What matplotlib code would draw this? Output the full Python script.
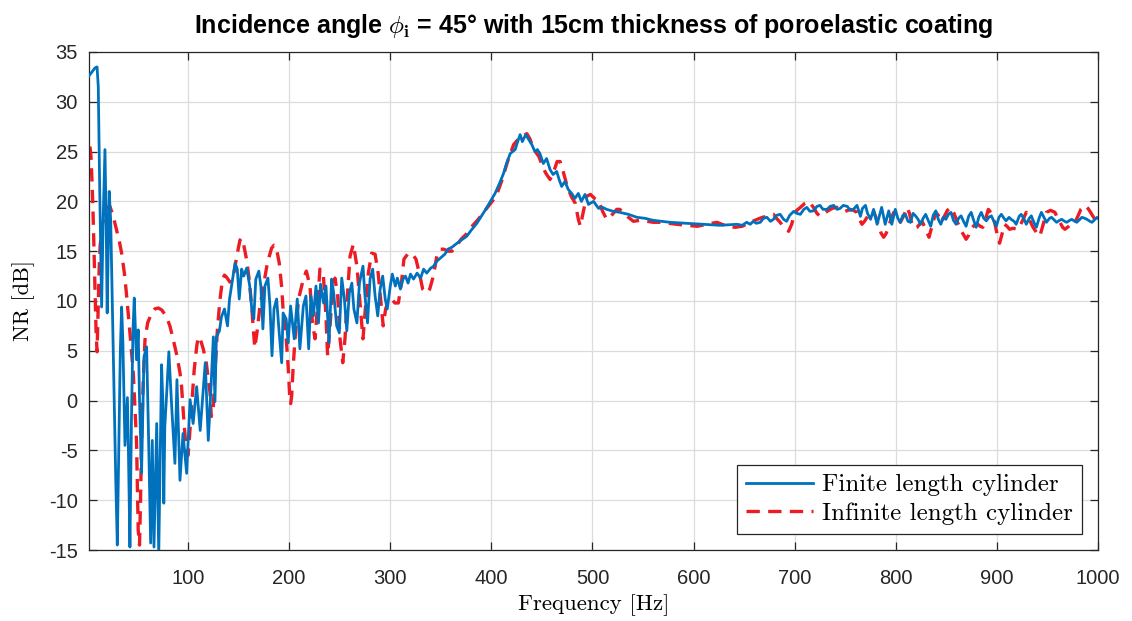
import matplotlib
matplotlib.use("Agg")
import matplotlib.pyplot as plt

plt.rcParams['mathtext.fontset'] = 'cm'
plt.rcParams['axes.unicode_minus'] = False

# --- Finite length cylinder ---
fin_freq = [2, 5, 8, 10, 11.2, 12.5, 14.5, 16, 17.8, 19, 20, 21, 22, 23.5, 26, 28.5, 30, 31.5, 33, 34.3,
            35.5, 37.6, 40, 41, 42.5, 44, 45.5, 46.8, 49, 50.7, 52, 54, 56.4, 59, 61, 63, 64.6, 66.3, 69, 71,
            73.8, 75, 76, 77, 79, 81, 83.8, 87, 89, 92, 95, 98.6, 102, 105, 108.5, 112, 117, 120, 122, 125,
            126.6, 128, 131, 133, 136, 139, 141, 144, 146.5, 148.7, 150.6, 153, 155, 158, 161, 163, 165, 167, 170, 172,
            174, 176, 179, 181, 183, 185, 187.6, 189.6, 192.6, 194, 197, 199, 201.4, 205, 208, 210.6, 214, 216.6, 219.3, 221.5,
            224, 226.5, 229, 231, 234, 236.4, 239.4, 242, 244, 247, 249.6, 252, 254.6, 257, 259.5, 262, 264, 267,
            269.5, 273, 275, 277.5, 280, 282.6, 285, 287.6, 290, 292.5, 295, 297, 300, 302, 305, 307, 310, 312.6,
            315, 317.6, 320, 323, 326.5, 330, 333, 336, 340, 343, 346, 349.5, 354, 357, 361, 366, 370, 375.6,
            380, 385.6, 390, 395, 399, 403.6, 408, 412, 415, 418.6, 421, 423.5, 426, 428.4, 430.6, 432, 434, 437,
            440, 443, 445.5, 448, 451.4, 454.6, 458, 461, 464.6, 467, 469.5, 472.8, 476, 479.4, 482.6, 486, 489, 492.6,
            496, 501, 506, 510, 514, 520.6, 527, 535.5, 544, 552, 560, 568, 576.6, 585, 593, 601, 609.6, 618,
            626, 634, 643, 648, 652.5, 656, 659, 662, 666, 669, 672.5, 676, 679, 682, 685.6, 689, 692, 695,
            699, 702, 705.6, 709, 712, 715, 718.5, 722, 725, 728, 732, 735, 738.6, 742, 745, 748, 752, 755,
            758, 761.6, 765, 767, 770, 772, 775, 778, 781.5, 786, 789.5, 793, 796, 799.5, 802, 804.5, 807, 809.5,
            812, 814.5, 817, 819.5, 822, 824.5, 827, 829.5, 832, 834.5, 837, 839.5, 842, 844.5, 847, 849.5, 852, 854.5,
            857, 859.6, 862, 864.5, 867, 869.5, 872, 874.5, 877, 879.5, 882, 884.5, 887, 889.5, 892, 894.5, 897, 899.4,
            902, 904.4, 907, 909, 912, 914, 917, 919, 922, 924, 927, 929, 932, 934, 937, 939, 942, 944,
            947, 949, 952, 954, 957, 959, 962, 964, 967, 969, 972, 974, 977, 979, 982, 984, 987, 989,
            992, 994, 997, 999, 1000]
fin_nr = [32.6, 33.0, 33.4, 33.5, 31.5, 22, 9.4, 18, 25.2, 18, 8.8, 15, 21, 18, 5, -8, -14.5, -5, 5, 9.4,
          6, -4.5, 0.3, -5, -14.7, -2, 7, 10.3, 4.1, 7.1, 0, -7.3, 4.4, 5.4, -4, -14.3, -4, -14.7, -2.3, -15.5,
          3.6, 0, -10.3, -2.6, 1, 4.9, -0.6, -6.3, 2.1, -8, -3.3, -7.3, 0.1, -2.3, 1.4, -3, 3.8, -4, -0.1, 6.4,
          -0.1, 6.4, 7, 8.4, 9.2, 7.5, 10.2, 12.2, 13.8, 13.2, 10.2, 13.2, 12.5, 13.3, 11.5, 9.2, 8.2, 12.2, 13, 11.5,
          7.2, 11.5, 12.3, 9.5, 4.5, 9.2, 10.2, 7.5, 3.8, 8.8, 8.2, 5.8, 9.5, 6.2, 10.2, 5.2, 9.5, 10.5, 5.2, 10.5,
          8.5, 11.5, 7.8, 11.7, 9.8, 11.5, 5.8, 12.2, 10.8, 7.5, 6.8, 12.3, 10.2, 7, 10.8, 11.8, 9.2, 7.8,
          11.8, 13.5, 10.5, 7.8, 12.2, 13.2, 10.5, 8.5, 11.2, 12.5, 10.2, 9.2, 11.5, 12.7, 11.5, 12.3, 11.2, 12.2,
          12.5, 11.8, 12.7, 12.2, 12.8, 12.3, 13.2, 12.8, 13.3, 13.5, 14, 14.3, 14.7, 15.2, 15.4, 15.8, 16.1, 16.5,
          17.1, 17.8, 18.5, 19.3, 20, 20.8, 21.8, 22.8, 23.8, 24.8, 25, 25.2, 26, 26.7, 26, 26.3, 26.7, 26.2,
          25.7, 25, 25.2, 24.8, 23.8, 24.3, 23.2, 22.7, 23, 22.2, 21.5, 22, 21.2, 20.8, 20.3, 20.8, 20, 20.7,
          19.7, 20, 19.3, 19.4, 19.2, 19, 18.9, 18.7, 18.4, 18.3, 18.1, 18, 17.9, 17.85, 17.8, 17.75, 17.7, 17.65,
          17.6, 17.65, 17.7, 17.6, 17.9, 17.7, 18, 17.8, 17.9, 18.3, 18.4, 18, 18.2, 18.6, 18.7, 18.2, 18, 18.6,
          19, 18.8, 18.7, 19.2, 19.4, 19, 19.05, 19.5, 19.6, 19.2, 19.2, 19.5, 19.6, 19.2, 19.3, 19.6, 19.5, 19.1,
          19.2, 19.6, 18.5, 19.3, 19.6, 18.8, 18.2, 19.2, 17.7, 19.4, 17.7, 19.05, 17.7, 19.2, 18.3, 17.9, 18.6, 18.7,
          18, 17.9, 18.8, 18.55, 18.2, 17.7, 18.3, 18.7, 18.1, 17.5, 18.6, 19.05, 18.2, 17.7, 18.4, 18.2, 18.7, 18.9,
          18.1, 17.7, 18.3, 18.55, 18, 17.5, 18.5, 18.9, 18.1, 17.4, 18.4, 18.9, 18.3, 18.05, 18.4, 18.55, 18, 17.5,
          18.4, 18.7, 18.3, 18.05, 18.4, 18.2, 18.0, 17.7, 18.5, 18.7, 18.2, 17.7, 18.3, 18.55, 17.8, 17.4, 18.4, 18.9,
          18.3, 17.9, 18.3, 18.4, 18.1, 17.9, 18.1, 18.2, 18.0, 17.9, 18.1, 18.2, 18.0, 17.9, 18.2, 18.4, 18.3, 18.2,
          18.0, 17.9, 18.2, 18.4, 18.3]

# --- Infinite length cylinder ---
inf_freq = [3, 4, 5, 6, 7, 8, 9, 10, 11, 12, 13, 15, 18, 20, 22.7, 26, 29.4, 32, 34.3, 37,
            39, 42.5, 45.8, 49, 50.7, 52, 53, 54, 55.5, 57.4, 60, 64, 67, 70.5, 74, 78.8, 82, 85.4, 89, 92,
            93.6, 95.3, 97, 98.6, 100, 101.5, 103.5, 106, 108.5, 110, 112, 115, 118, 121.7, 123, 125, 126.6, 129, 131.5, 134,
            136, 138, 141.4, 144.7, 148, 151.3, 153, 154.7, 158, 160.5, 163, 164.6, 166, 168.5, 171, 174.4, 178.4, 182.6, 185, 187,
            190.2, 192.6, 194, 197, 199, 200.5, 201.5, 202.5, 204, 205.7, 207.4, 210, 214, 217, 220.6, 223, 225.6, 228, 230.4, 233.7,
            236.4, 238, 240.4, 243, 245.3, 248, 250.3, 253, 255.2, 258, 260.2, 263.5, 267, 270, 273, 275, 278.3, 281.6, 285, 288,
            290.5, 293, 295.4, 298, 301.3, 304.6, 308, 311, 313.5, 317.8, 322, 325.4, 329.4, 332, 336, 339, 342.6, 346, 349.5, 353,
            357, 361, 366, 370, 375, 380, 387, 393, 400, 405, 410, 416, 422, 427, 432, 435, 438, 442, 447, 451,
            454, 458, 461, 465, 468, 471, 475, 479, 483, 486, 488, 490, 494, 498, 502, 506, 510, 514, 518, 524,
            527, 533, 540.5, 547, 554, 560, 567, 575, 583.5, 593, 603.5, 608, 613, 618, 623, 628, 634, 641, 648, 656,
            663, 668, 672.5, 676, 679, 682, 685.6, 690, 694, 697, 699, 702, 705.6, 710, 714, 718.5, 722, 725, 728, 732,
            737, 742, 746, 750, 755, 758, 761.6, 764, 766.5, 769, 771.5, 775, 778, 781, 783, 785.5, 788, 790.5, 793, 795.5,
            798, 801, 804.5, 808, 811, 813.5, 816, 818.5, 821, 823.5, 826, 829.5, 832.8, 836, 839.5, 842, 844.5, 848, 851, 854.5,
            857.5, 861, 865, 869.5, 872, 874.5, 877.5, 881, 883.5, 886, 889, 891.5, 894.5, 897.7, 900, 902.6, 905, 907.6, 910, 912.5,
            916, 920.8, 925, 929, 932, 935.7, 939, 942.4, 945.5, 949, 953, 957.4, 960, 962.4, 965, 967.3, 971, 974, 977.2, 980,
            983, 987.1, 990, 992, 995, 998, 1000]
inf_nr = [25.5, 24.5, 22, 19, 15, 11, 7, 4.9, 9, 13, 15.5, 17.5, 19, 19.4, 19.5, 18.5, 17.1, 16, 14.8, 12.8,
          10.8, 6.8, 2.8, -4, -13, -14.5, -10, -4, 1.5, 6.1, 7.8, 8.8, 9.2, 9.3, 9.1, 8.4, 7.5, 6.1, 4.5, 2.8,
          1.4, -1.2, -3.5, -5.2, -5.5, -3.5, -0.6, 3, 5.4, 6.4, 6.2, 5.2, 3.8, 0.8, -1.6, -0.6, 2.8, 7.1, 10.1, 12.1,
          12.6, 12.4, 11.9, 12.4, 14.4, 16.1, 16.3, 15.8, 14.1, 12.1, 9.4, 7.1, 5.3, 7.1, 9.4, 11.4, 13.8, 15.3, 15.6, 15.5,
          13.8, 11.4, 9.1, 6.4, 3.4, 0.5, -0.3, 0.5, 3.5, 6, 8.5, 10.5, 12.2, 13, 11.5, 7.8, 6.2, 9.5, 13.2, 12.8,
          8.5, 4.5, 7.5, 11.2, 12.3, 10.5, 6.2, 3.8, 6.2, 11.2, 14.5, 15.7, 13.5, 9.8, 6.2, 8.8, 12.8, 14.8, 14.7, 12.8,
          10.2, 7.5, 9.2, 10, 10.2, 9.8, 9.8, 11.8, 14.2, 14.8, 14.7, 14.2, 12.5, 11.2, 10.8, 11.2, 12.5, 14.5, 15.2, 15.2,
          15, 15, 15.6, 16.2, 16.7, 17.4, 18.2, 19, 19.9, 20.6, 22, 24, 25.7, 26.3, 26.6, 26.8, 26.3, 25.2, 24.5, 23.4,
          22.8, 22.2, 22.8, 24, 24, 23, 21.5, 20.5, 19.8, 18.2, 17.5, 18.5, 20.5, 20.7, 20.3, 20.1, 19, 18.2, 18.5, 19.2,
          19.2, 18.6, 18, 18.1, 18, 17.9, 17.9, 17.8, 17.7, 17.6, 17.5, 17.6, 17.7, 17.8, 17.9, 17.7, 17.5, 17.4, 17.5, 17.9,
          18.2, 18.4, 18.5, 18.7, 18.7, 18.3, 17.9, 17.3, 17, 17.7, 18.5, 19.1, 19.4, 19.8, 20, 19.4, 18.8, 18.5, 18.7, 19,
          19.3, 19.4, 19.2, 19, 19.2, 19.1, 18.9, 18.2, 17.7, 18, 18.4, 18.9, 19, 18.2, 17.5, 16.8, 16.4, 16.8, 17.5, 18.3,
          18.9, 18.6, 17.9, 18.6, 19.4, 18.8, 17.7, 17.3, 17.4, 17.7, 18, 17.2, 16.4, 17.6, 18.9, 18.6, 17.9, 18.5, 19.1, 19.4,
          18.8, 17.9, 17, 16.2, 16.6, 17.2, 17.6, 17.7, 17.5, 17.4, 18.3, 19.2, 18.8, 17.9, 16.8, 15.8, 16.7, 17.7, 17.5, 17.2,
          17.3, 17.2, 18, 18.9, 18.2, 17.4, 16.9, 16.5, 17.6, 18.9, 19.1, 18.9, 18.3, 17.9, 17.4, 17.2, 17.5, 17.8, 17.9, 18.5,
          19.2, 19.6, 19.3, 19, 18.5, 18, 17.9]

x_ticks = [100, 200, 300, 400, 500, 600, 700, 800, 900, 1000]
y_ticks = [-15, -10, -5, 0, 5, 10, 15, 20, 25, 30, 35]

fig = plt.figure(figsize=(11.32, 6.21), dpi=100)
ax = fig.add_axes([0.0786, 0.1143, 0.8914, 0.8020])

ax.plot(fin_freq, fin_nr, color='#0072BD', lw=2.0, label='Finite length cylinder', zorder=3)
ax.plot(inf_freq, inf_nr, color='#ED1C24', lw=2.4, ls=(0, (4, 2.5)), label='Infinite length cylinder', zorder=2)

ax.set_xlim(2, 1000)
ax.set_ylim(-15, 35)
ax.set_xticks(x_ticks)
ax.set_yticks(y_ticks)
ax.grid(True, color='#dcdcdc', lw=0.9)
ax.set_axisbelow(True)
ax.tick_params(direction='in', top=True, right=True, length=6, width=0.9, color='#262626',
               labelsize=14.5, labelcolor='#262626')
ax.tick_params(axis='x', pad=14)
ax.tick_params(axis='y', pad=8)
for lab in ax.get_xticklabels() + ax.get_yticklabels():
    lab.set_fontfamily('Liberation Sans')
for sp in ax.spines.values():
    sp.set_color('#262626')
    sp.set_linewidth(0.9)

ax.set_xlabel('Frequency [Hz]', fontfamily='cmr10', fontsize=16.5, labelpad=4)
ax.set_ylabel('NR [dB]', fontfamily='cmr10', fontsize=16, labelpad=10)
ax.set_title(r'Incidence angle $\phi_{\mathbf{i}}$ = 45° with 15cm thickness of poroelastic coating',
             fontfamily='Liberation Sans', fontweight='bold', fontsize=18, pad=14)

leg = ax.legend(loc='lower right', prop={'family': 'cmr10', 'size': 18}, fancybox=False,
                framealpha=1, edgecolor='#262626', handlelength=2.7, handletextpad=0.35,
                borderaxespad=0.65, borderpad=0.35, labelspacing=0.25)
leg.get_frame().set_linewidth(0.9)

plt.savefig('out.png', dpi=100)
plt.close()
